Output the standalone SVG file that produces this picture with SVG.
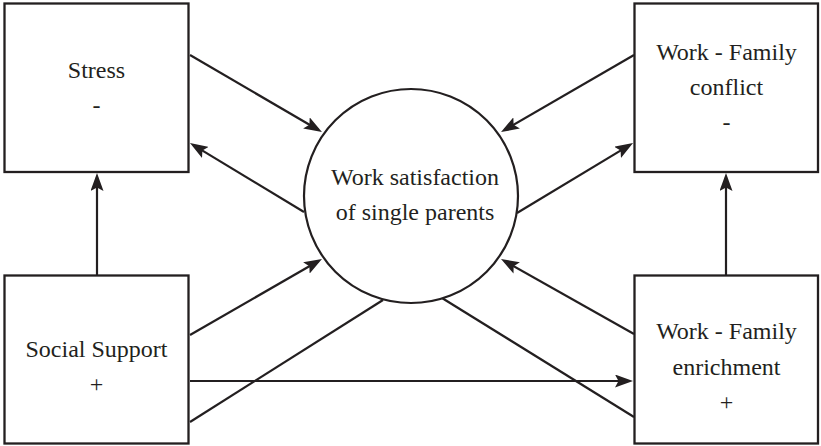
<svg xmlns="http://www.w3.org/2000/svg" width="821" height="446" viewBox="0 0 821 446">
<style>
.box{fill:#fff;stroke:#231f20;stroke-width:2.3}
.ell{fill:#fff;stroke:#231f20;stroke-width:2.2}
.c{fill:none;stroke:#231f20;stroke-width:2.2}
.a{marker-end:url(#ah)}
.t{font-family:"Liberation Serif","Times New Roman",serif;font-size:24px;fill:#231f20;text-anchor:middle}
</style>
<defs>
<marker id="ah" markerUnits="userSpaceOnUse" markerWidth="18" markerHeight="13" viewBox="0 0 18 13" refX="14" refY="6.5" orient="auto">
<path d="M0,0 L18,6.5 L0,13 L3.5,6.5 Z" fill="#231f20"/>
</marker>
</defs>
<rect width="821" height="446" fill="#fff"/>
<g id="connectors">
<path class="c a" d="M190,55 L318.5,130"/>
<path class="c a" d="M304,212 L193.4,145.1"/>
<path class="c a" d="M97,275 L97,177"/>
<path class="c a" d="M634,55 L504.5,130"/>
<path class="c a" d="M517,213 L629.6,145.1"/>
<path class="c a" d="M726,275 L726,177"/>
<path class="c a" d="M190,335 L318.5,261"/>
<path class="c a" d="M190,381 L629,381"/>
<path class="c a" d="M634,334 L504.5,261"/>
<path class="c" d="M190,422 L383,300"/>
<path class="c" d="M442,298 L634,417"/>
</g>
<g id="satisfaction">
<circle class="ell" cx="411" cy="196" r="107"/>
<text class="t" x="415" y="185">Work satisfaction</text>
<text class="t" x="415" y="220">of single parents</text>
</g>
<g id="stress">
<rect class="box" x="4.5" y="3.5" width="184" height="168.5"/>
<text class="t" x="96.5" y="78">Stress</text>
<text class="t" x="96.5" y="113">-</text>
</g>
<g id="conflict">
<rect class="box" x="634.5" y="3.5" width="183.5" height="168.5"/>
<text class="t" x="726.5" y="60">Work - Family</text>
<text class="t" x="726.5" y="95">conflict</text>
<text class="t" x="726.5" y="130">-</text>
</g>
<g id="support">
<rect class="box" x="4.5" y="275.5" width="184" height="168"/>
<text class="t" x="96.5" y="357">Social Support</text>
<text class="t" x="96.5" y="392">+</text>
</g>
<g id="enrichment">
<rect class="box" x="634.5" y="275.5" width="183.5" height="168"/>
<text class="t" x="726.5" y="339">Work - Family</text>
<text class="t" x="726.5" y="375">enrichment</text>
<text class="t" x="726.5" y="410">+</text>
</g>
</svg>
